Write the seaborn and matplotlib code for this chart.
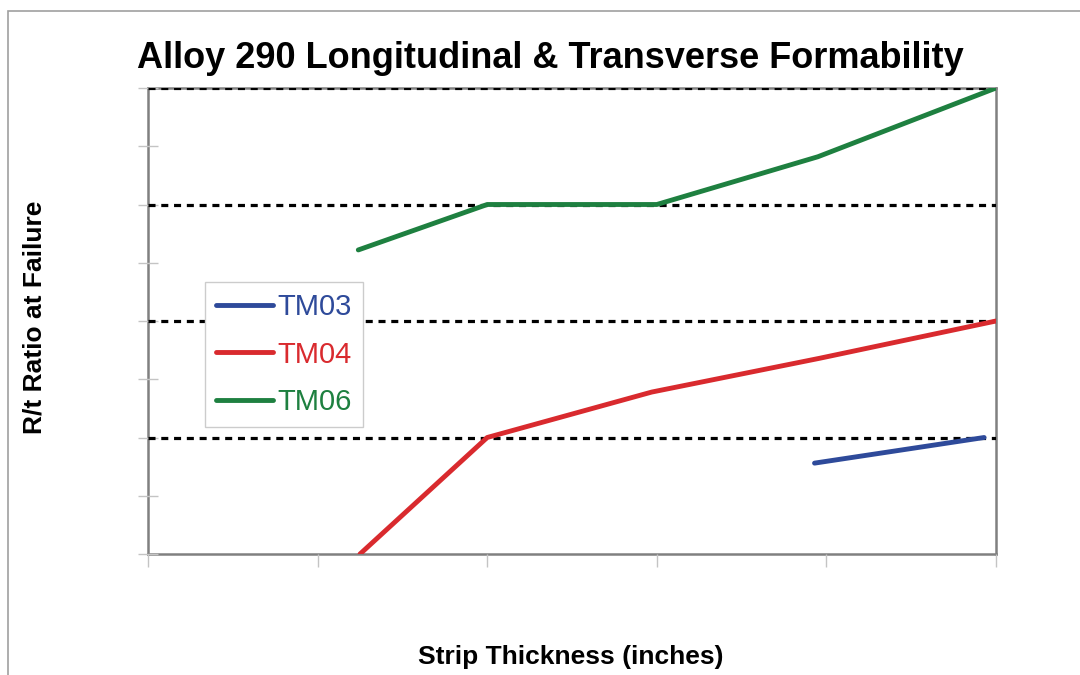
import matplotlib
matplotlib.use("Agg")
import matplotlib.pyplot as plt
import matplotlib.patches as mpatches
import seaborn as sns
import pandas as pd

# ---- data ----
tm03_x = [3.93, 4.93]
tm03_y = [0.78, 1.00]
tm04_x = [1.25, 2.0, 2.97, 3.96, 5.0]
tm04_y = [0.0, 1.0, 1.39, 1.68, 2.0]
tm06_x = [1.24, 2.0, 3.0, 3.95, 5.0]
tm06_y = [2.61, 3.0, 3.0, 3.41, 4.0]
series_names = ["TM03", "TM04", "TM06"]
series_colors = ["#2E4A9A", "#D92A2E", "#1E8040"]
grid_levels = [1, 2, 3, 4]

title = "Alloy 290 Longitudinal & Transverse Formability"
xlabel = "Strip Thickness (inches)"
ylabel = "R/t Ratio at Failure"

frames = []
for name, xs, ys in zip(series_names, [tm03_x, tm04_x, tm06_x], [tm03_y, tm04_y, tm06_y]):
    frames.append(pd.DataFrame({"x": xs, "y": ys, "series": name}))
df = pd.concat(frames, ignore_index=True)

sns.set_style("white")
plt.rcParams['font.family'] = ['Liberation Sans', 'DejaVu Sans']
plt.rcParams['text.color'] = 'black'

fig = plt.figure(figsize=(10.8, 6.75), dpi=100)
ax = fig.add_axes([148/1080, 1-554/675, (996-148)/1080, (554-88)/675])

# dotted gridlines
for g in grid_levels:
    ax.axhline(g, color="black", lw=2.3, linestyle=(0, (2.2, 1.8)), zorder=1)

sns.lineplot(data=df, x="x", y="y", hue="series", palette=dict(zip(series_names, series_colors)),
             lw=3.5, ax=ax, sort=False, estimator=None, zorder=3)

ax.set_xlim(0, 5)
ax.set_ylim(0, 4)
ax.set_xticks([0, 1, 2, 3, 4, 5])
ax.set_yticks([0, 0.5, 1, 1.5, 2, 2.5, 3, 3.5, 4])
ax.set_xticklabels([])
ax.set_yticklabels([])
ax.set_xlabel("")
ax.set_ylabel("")
ax.tick_params(axis="x", direction="out", length=9, width=1, color="#c4c4c4", bottom=True)
ax.tick_params(axis="y", direction="inout", length=14, width=1, color="#c4c4c4", left=True)
for s in ax.spines.values():
    s.set_color("#808080")
    s.set_linewidth(1.8)
    s.set_zorder(0.5)

leg = ax.legend(loc="upper left", bbox_to_anchor=((205-148)/848, (554-282)/466),
                borderaxespad=0, frameon=True, fancybox=False, fontsize=21, framealpha=1,
                handlelength=1.95, handletextpad=0.17, labelspacing=0.68,
                borderpad=0.37, edgecolor="#cccccc")
leg.get_frame().set_linewidth(1.0)
leg.set_zorder(5)
for txt, c in zip(leg.get_texts(), series_colors):
    txt.set_color(c)
for h in leg.get_lines():
    h.set_linewidth(3.5)

fig.text(550/1080, 1-59/675, title, ha="center", va="center", fontsize=26, fontweight="bold")
fig.text(571/1080, 1-657/675, xlabel, ha="center", va="center", fontsize=19, fontweight="bold")
fig.text(35/1080, 1-317/675, ylabel, ha="center", va="center", rotation=90, fontsize=19, fontweight="bold")

# outer frame
fig.patches.append(mpatches.Rectangle((8/1080, -0.2), 1.5, 1.2 - 11/675, transform=fig.transFigure,
                                      fill=False, edgecolor="#a0a0a0", lw=1.2, figure=fig))

fig.savefig("out.png", dpi=100)
